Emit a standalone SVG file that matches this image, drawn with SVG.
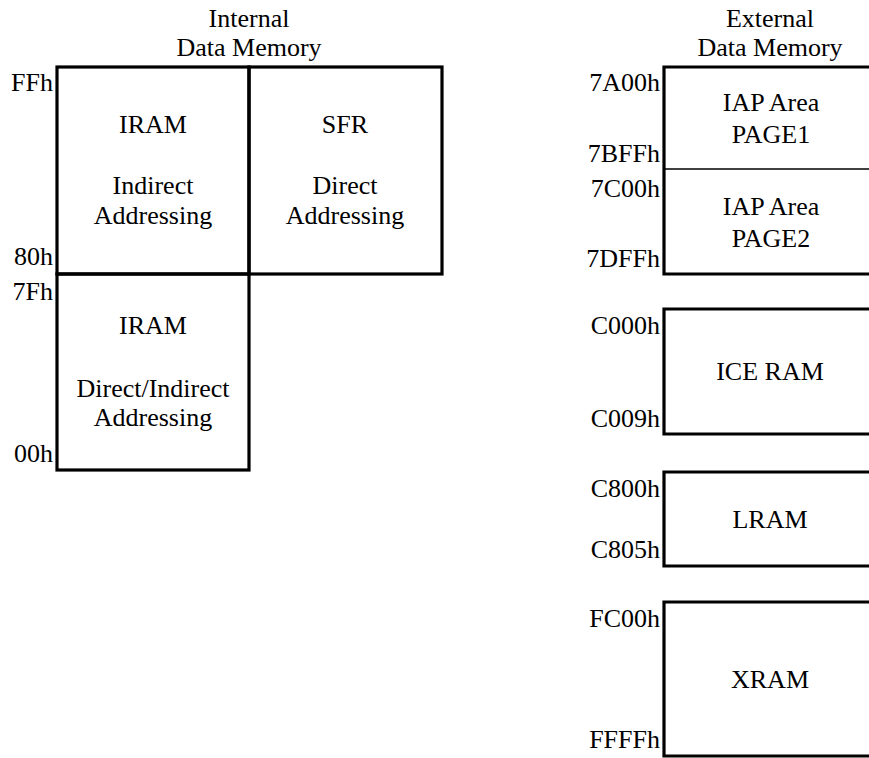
<svg xmlns="http://www.w3.org/2000/svg" width="869" height="758" viewBox="0 0 869 758">
<style>
text{font-size:26px;fill:#000}
.c{text-anchor:middle}
.r{text-anchor:end}
.box{fill:none;stroke:#000;stroke-width:3.2;stroke-linejoin:miter}
.thin{fill:none;stroke:#000;stroke-width:1.6}
</style>
<rect width="869" height="758" fill="#fff"/>
<g font-family="Liberation Serif, Times New Roman, serif">
<g id="internal-title">
<text class="c" x="249" y="27">Internal</text>
<text class="c" x="249" y="56">Data Memory</text>
</g>
<g id="iram-upper">
<rect class="box" x="57" y="67" width="192" height="207"/>
<text class="c" x="153" y="133">IRAM</text>
<text class="c" x="153" y="194">Indirect</text>
<text class="c" x="153" y="224">Addressing</text>
</g>
<g id="sfr">
<rect class="box" x="249" y="67" width="193" height="207"/>
<text class="c" x="345" y="133">SFR</text>
<text class="c" x="345" y="194">Direct</text>
<text class="c" x="345" y="224">Addressing</text>
</g>
<g id="iram-lower">
<rect class="box" x="57" y="274" width="192" height="196"/>
<text class="c" x="153" y="334">IRAM</text>
<text class="c" x="153" y="397">Direct/Indirect</text>
<text class="c" x="153" y="426">Addressing</text>
</g>
<g id="internal-addresses">
<text class="r" x="53" y="91">FFh</text>
<text class="r" x="53" y="265">80h</text>
<text class="r" x="53" y="300">7Fh</text>
<text class="r" x="53" y="462">00h</text>
</g>
<g id="external-title">
<text class="c" x="770" y="27">External</text>
<text class="c" x="770" y="56">Data Memory</text>
</g>
<g id="iap-area">
<path class="box" d="M871,67 H664 V274 H871"/>
<path class="thin" d="M664,169 H871"/>
<text class="c" x="771" y="111">IAP Area</text>
<text class="c" x="771" y="143">PAGE1</text>
<text class="c" x="771" y="215">IAP Area</text>
<text class="c" x="771" y="247">PAGE2</text>
<text class="r" x="660" y="91">7A00h</text>
<text class="r" x="660" y="162">7BFFh</text>
<text class="r" x="660" y="197">7C00h</text>
<text class="r" x="660" y="267">7DFFh</text>
</g>
<g id="ice-ram">
<path class="box" d="M871,309 H664 V434 H871"/>
<text class="c" x="770" y="380">ICE RAM</text>
<text class="r" x="660" y="334">C000h</text>
<text class="r" x="660" y="427">C009h</text>
</g>
<g id="lram">
<path class="box" d="M871,472 H664 V566 H871"/>
<text class="c" x="770" y="528">LRAM</text>
<text class="r" x="660" y="497">C800h</text>
<text class="r" x="660" y="558">C805h</text>
</g>
<g id="xram">
<path class="box" d="M871,602 H664 V756 H871"/>
<text class="c" x="770" y="688">XRAM</text>
<text class="r" x="660" y="627">FC00h</text>
<text class="r" x="660" y="748">FFFFh</text>
</g>
</g>
<g id="connectors"/>
</svg>
